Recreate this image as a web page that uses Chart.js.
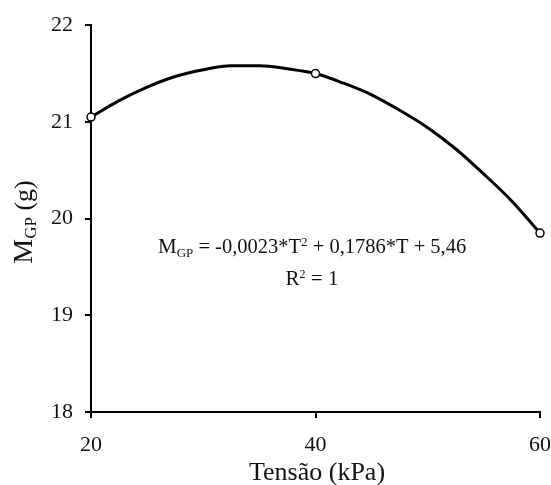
<!DOCTYPE html>
<html>
<head>
<meta charset="utf-8">
<script src="https://cdn.jsdelivr.net/npm/chart.js@4.4.1/dist/chart.umd.min.js"></script>
<style>
  html, body { margin: 0; padding: 0; background: #fff; }
  #wrap { width: 551px; height: 485px; }
</style>
</head>
<body>
<div id="wrap"><canvas id="chart"></canvas></div>
<script>
// tensão (kPa) dos pontos medidos
const tensao = [20, 40, 60];
// massa de grãos por planta (g)
const massa = [21.05, 21.5, 19.85];
// pontos lidos ao longo da curva de tendência
const curvaT = [20, 22.5, 25, 27.5, 30, 32.5, 35, 37.5, 40, 42.5, 45, 47.5, 50, 52.5, 55, 57.5, 60];
const curvaM = [21.05, 21.22, 21.36, 21.47, 21.54, 21.58, 21.58, 21.55, 21.5, 21.4, 21.28, 21.12, 20.94, 20.72, 20.46, 20.18, 19.85];
const xTicks = [20, 40, 60];
const yTicks = [18, 19, 20, 21, 22];

const SERIF = '"Liberation Serif", "DejaVu Serif", serif';

// desenha texto com partes de tamanhos/deslocamentos diferentes
function drawRich(ctx, x, y, parts, align) {
  let total = 0;
  parts.forEach((p) => {
    ctx.font = p.size + "px " + SERIF;
    p.w = ctx.measureText(p.t).width;
    total += p.w;
  });
  let cx = align === "center" ? x - total / 2 : x;
  parts.forEach((p) => {
    ctx.font = p.size + "px " + SERIF;
    ctx.fillText(p.t, cx, y + (p.dy || 0));
    cx += p.w;
  });
}

const textPlugin = {
  id: "textos",
  afterDraw(chart) {
    const ctx = chart.ctx;
    ctx.save();
    ctx.fillStyle = "#111";
    ctx.textBaseline = "alphabetic";
    ctx.textAlign = "left";
    // equação
    drawRich(ctx, 158, 253, [
      { t: "M", size: 21 },
      { t: "GP", size: 13, dy: 4 },
      { t: " = -0,0023*T", size: 20.5 },
      { t: "2", size: 13, dy: -7 },
      { t: " + 0,1786*T + 5,46", size: 20.5 },
    ]);
    drawRich(ctx, 312, 285, [
      { t: "R", size: 21 },
      { t: "2", size: 12, dy: -7 },
      { t: " = 1", size: 21 },
    ], "center");
    // título eixo x
    drawRich(ctx, 317, 480, [{ t: "Tensão (kPa)", size: 26 }], "center");
    // título eixo y
    ctx.translate(32, 222);
    ctx.rotate(-Math.PI / 2);
    drawRich(ctx, 0, 0, [
      { t: "M", size: 28 },
      { t: "GP", size: 17, dy: 4 },
      { t: " (g)", size: 26 },
    ], "center");
    ctx.restore();
  },
};

new Chart(document.getElementById("chart"), {
  type: "scatter",
  data: {
    datasets: [
      {
        type: "line",
        data: curvaT.map((t, i) => ({ x: t, y: curvaM[i] })),
        borderColor: "#000",
        borderWidth: 3,
        pointRadius: 0,
        tension: 0.4,
        cubicInterpolationMode: "monotone",
        fill: false,
        clip: false,
        order: 2,
      },
      {
        data: tensao.map((t, i) => ({ x: t, y: massa[i] })),
        pointStyle: "circle",
        pointRadius: 4,
        borderWidth: 1.5,
        borderColor: "#000",
        backgroundColor: "#fff",
        clip: false,
        order: 1,
      },
    ],
  },
  options: {
    responsive: true,
    maintainAspectRatio: false,
    animation: false,
    layout: { padding: { top: 23, right: 11, left: 0, bottom: 0 } },
    plugins: {
      legend: { display: false },
      tooltip: { enabled: false },
    },
    scales: {
      x: {
        type: "linear",
        min: 20,
        max: 60,
        afterBuildTicks: (s) => { s.ticks = xTicks.map((v) => ({ value: v })); },
        afterFit: (s) => {
          s.height = 73;
          s.paddingLeft = 0;
          s.paddingRight = 0;
        },
        border: { display: true, color: "#000", width: 2 },
        grid: { drawOnChartArea: false, drawTicks: true, tickLength: 6, color: "#000", lineWidth: 2 },
        ticks: { color: "#111", font: { family: SERIF, size: 22 }, padding: 14, maxRotation: 0 },
      },
      y: {
        min: 18,
        max: 22,
        afterBuildTicks: (s) => { s.ticks = yTicks.map((v) => ({ value: v })); },
        afterFit: (s) => { s.width = 91; },
        border: { display: true, color: "#000", width: 2 },
        grid: { drawOnChartArea: false, drawTicks: true, tickLength: 6, color: "#000", lineWidth: 2 },
        ticks: { color: "#111", font: { family: SERIF, size: 22 }, padding: 12 },
      },
    },
  },
  plugins: [textPlugin],
});
</script>
</body>
</html>
